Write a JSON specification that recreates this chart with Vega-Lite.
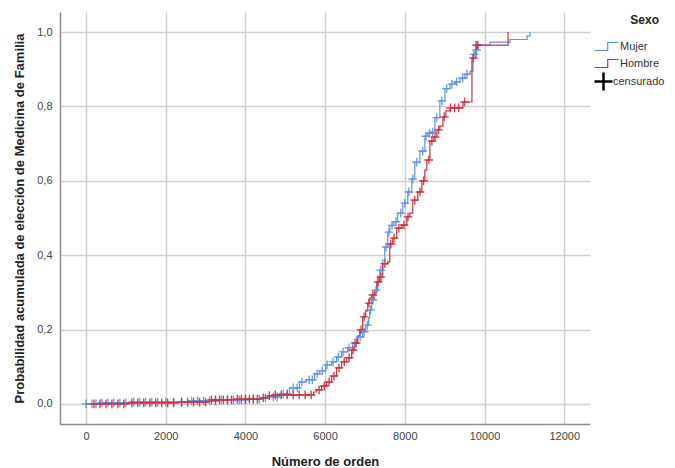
{
  "$schema": "https://vega.github.io/schema/vega-lite/v6.json",
  "width": 530,
  "height": 412,
  "autosize": {"type": "none"},
  "padding": {"left": 60, "top": 12, "right": 85, "bottom": 44},
  "background": "white",
  "config": {
    "view": {"stroke": null},
    "font": "Liberation Sans",
    "axis": {
      "gridColor": "#cfcfcf",
      "gridWidth": 1.5,
      "domainColor": "#8c8c8c",
      "domainWidth": 1.5,
      "ticks": false,
      "labelFont": "Liberation Sans",
      "labelFontSize": 11,
      "labelColor": "#444444",
      "titleFont": "Liberation Sans",
      "titleFontSize": 13,
      "titleFontWeight": "bold",
      "titleColor": "#222222"
    },
    "legend": {"padding": 0}
  },
  "datasets": {
    "steps": [
      {"s": "Mujer", "x": 0, "y": 0},
      {"s": "Mujer", "x": 327, "y": 0.003},
      {"s": "Mujer", "x": 1082, "y": 0.005},
      {"s": "Mujer", "x": 2591, "y": 0.008},
      {"s": "Mujer", "x": 3346, "y": 0.011},
      {"s": "Mujer", "x": 4101, "y": 0.013},
      {"s": "Mujer", "x": 4403, "y": 0.016},
      {"s": "Mujer", "x": 4604, "y": 0.019},
      {"s": "Mujer", "x": 4855, "y": 0.027},
      {"s": "Mujer", "x": 5107, "y": 0.043},
      {"s": "Mujer", "x": 5358, "y": 0.059},
      {"s": "Mujer", "x": 5535, "y": 0.065},
      {"s": "Mujer", "x": 5736, "y": 0.081},
      {"s": "Mujer", "x": 5862, "y": 0.089},
      {"s": "Mujer", "x": 6013, "y": 0.105},
      {"s": "Mujer", "x": 6163, "y": 0.113},
      {"s": "Mujer", "x": 6289, "y": 0.126},
      {"s": "Mujer", "x": 6415, "y": 0.14},
      {"s": "Mujer", "x": 6566, "y": 0.151},
      {"s": "Mujer", "x": 6692, "y": 0.164},
      {"s": "Mujer", "x": 6817, "y": 0.18},
      {"s": "Mujer", "x": 6943, "y": 0.194},
      {"s": "Mujer", "x": 7019, "y": 0.212},
      {"s": "Mujer", "x": 7094, "y": 0.231},
      {"s": "Mujer", "x": 7119, "y": 0.253},
      {"s": "Mujer", "x": 7170, "y": 0.28},
      {"s": "Mujer", "x": 7245, "y": 0.306},
      {"s": "Mujer", "x": 7321, "y": 0.344},
      {"s": "Mujer", "x": 7371, "y": 0.36},
      {"s": "Mujer", "x": 7447, "y": 0.387},
      {"s": "Mujer", "x": 7497, "y": 0.422},
      {"s": "Mujer", "x": 7572, "y": 0.462},
      {"s": "Mujer", "x": 7623, "y": 0.48},
      {"s": "Mujer", "x": 7723, "y": 0.49},
      {"s": "Mujer", "x": 7824, "y": 0.513},
      {"s": "Mujer", "x": 7950, "y": 0.54},
      {"s": "Mujer", "x": 8075, "y": 0.57},
      {"s": "Mujer", "x": 8176, "y": 0.605},
      {"s": "Mujer", "x": 8251, "y": 0.65},
      {"s": "Mujer", "x": 8377, "y": 0.68},
      {"s": "Mujer", "x": 8503, "y": 0.72},
      {"s": "Mujer", "x": 8578, "y": 0.728},
      {"s": "Mujer", "x": 8679, "y": 0.731},
      {"s": "Mujer", "x": 8755, "y": 0.77},
      {"s": "Mujer", "x": 8880, "y": 0.815},
      {"s": "Mujer", "x": 9006, "y": 0.848},
      {"s": "Mujer", "x": 9132, "y": 0.86},
      {"s": "Mujer", "x": 9258, "y": 0.866},
      {"s": "Mujer", "x": 9384, "y": 0.876},
      {"s": "Mujer", "x": 9509, "y": 0.887},
      {"s": "Mujer", "x": 9635, "y": 0.895},
      {"s": "Mujer", "x": 9711, "y": 0.94},
      {"s": "Mujer", "x": 9786, "y": 0.952},
      {"s": "Mujer", "x": 9836, "y": 0.965},
      {"s": "Mujer", "x": 10138, "y": 0.973},
      {"s": "Mujer", "x": 10641, "y": 0.98},
      {"s": "Mujer", "x": 11069, "y": 0.99},
      {"s": "Mujer", "x": 11145, "y": 1.0},
      {"s": "Hombre", "x": 0, "y": 0},
      {"s": "Hombre", "x": 1082, "y": 0.003},
      {"s": "Hombre", "x": 2340, "y": 0.005},
      {"s": "Hombre", "x": 3094, "y": 0.011},
      {"s": "Hombre", "x": 3723, "y": 0.013},
      {"s": "Hombre", "x": 4403, "y": 0.016},
      {"s": "Hombre", "x": 4553, "y": 0.022},
      {"s": "Hombre", "x": 4679, "y": 0.024},
      {"s": "Hombre", "x": 5711, "y": 0.032},
      {"s": "Hombre", "x": 5786, "y": 0.038},
      {"s": "Hombre", "x": 5912, "y": 0.048},
      {"s": "Hombre", "x": 6038, "y": 0.059},
      {"s": "Hombre", "x": 6163, "y": 0.075},
      {"s": "Hombre", "x": 6289, "y": 0.097},
      {"s": "Hombre", "x": 6415, "y": 0.113},
      {"s": "Hombre", "x": 6541, "y": 0.124},
      {"s": "Hombre", "x": 6667, "y": 0.145},
      {"s": "Hombre", "x": 6742, "y": 0.164},
      {"s": "Hombre", "x": 6817, "y": 0.183},
      {"s": "Hombre", "x": 6868, "y": 0.199},
      {"s": "Hombre", "x": 6943, "y": 0.234},
      {"s": "Hombre", "x": 7019, "y": 0.25},
      {"s": "Hombre", "x": 7069, "y": 0.271},
      {"s": "Hombre", "x": 7119, "y": 0.285},
      {"s": "Hombre", "x": 7170, "y": 0.293},
      {"s": "Hombre", "x": 7245, "y": 0.3},
      {"s": "Hombre", "x": 7296, "y": 0.328},
      {"s": "Hombre", "x": 7371, "y": 0.341},
      {"s": "Hombre", "x": 7447, "y": 0.377},
      {"s": "Hombre", "x": 7572, "y": 0.382},
      {"s": "Hombre", "x": 7623, "y": 0.43},
      {"s": "Hombre", "x": 7698, "y": 0.446},
      {"s": "Hombre", "x": 7799, "y": 0.473},
      {"s": "Hombre", "x": 7925, "y": 0.481},
      {"s": "Hombre", "x": 8050, "y": 0.503},
      {"s": "Hombre", "x": 8126, "y": 0.513},
      {"s": "Hombre", "x": 8201, "y": 0.548},
      {"s": "Hombre", "x": 8327, "y": 0.57},
      {"s": "Hombre", "x": 8427, "y": 0.6},
      {"s": "Hombre", "x": 8503, "y": 0.629},
      {"s": "Hombre", "x": 8553, "y": 0.656},
      {"s": "Hombre", "x": 8629, "y": 0.707},
      {"s": "Hombre", "x": 8729, "y": 0.718},
      {"s": "Hombre", "x": 8805, "y": 0.737},
      {"s": "Hombre", "x": 8880, "y": 0.747},
      {"s": "Hombre", "x": 8956, "y": 0.772},
      {"s": "Hombre", "x": 9031, "y": 0.788},
      {"s": "Hombre", "x": 9132, "y": 0.796},
      {"s": "Hombre", "x": 9459, "y": 0.812},
      {"s": "Hombre", "x": 9685, "y": 0.93},
      {"s": "Hombre", "x": 9786, "y": 0.965},
      {"s": "Hombre", "x": 10591, "y": 1.0}
    ],
    "cens": [
      {"s": "Mujer", "x": 0, "y": 0}, {"s": "Mujer", "x": 150, "y": 0}, {"s": "Mujer", "x": 250, "y": 0},
      {"s": "Mujer", "x": 400, "y": 0.003}, {"s": "Mujer", "x": 550, "y": 0.003}, {"s": "Mujer", "x": 700, "y": 0.003},
      {"s": "Mujer", "x": 850, "y": 0.003}, {"s": "Mujer", "x": 1000, "y": 0.003}, {"s": "Mujer", "x": 1200, "y": 0.005},
      {"s": "Mujer", "x": 1350, "y": 0.005}, {"s": "Mujer", "x": 1500, "y": 0.005}, {"s": "Mujer", "x": 1650, "y": 0.005},
      {"s": "Mujer", "x": 1800, "y": 0.005}, {"s": "Mujer", "x": 2000, "y": 0.005}, {"s": "Mujer", "x": 2200, "y": 0.005},
      {"s": "Mujer", "x": 2400, "y": 0.005}, {"s": "Mujer", "x": 2650, "y": 0.008}, {"s": "Mujer", "x": 2800, "y": 0.008},
      {"s": "Mujer", "x": 2950, "y": 0.008}, {"s": "Mujer", "x": 3100, "y": 0.008}, {"s": "Mujer", "x": 3250, "y": 0.008},
      {"s": "Mujer", "x": 3400, "y": 0.011}, {"s": "Mujer", "x": 3550, "y": 0.011}, {"s": "Mujer", "x": 3700, "y": 0.011},
      {"s": "Mujer", "x": 3850, "y": 0.011}, {"s": "Mujer", "x": 4000, "y": 0.011}, {"s": "Mujer", "x": 4200, "y": 0.013},
      {"s": "Mujer", "x": 4350, "y": 0.013}, {"s": "Mujer", "x": 4500, "y": 0.016}, {"s": "Mujer", "x": 4700, "y": 0.019},
      {"s": "Mujer", "x": 4800, "y": 0.019}, {"s": "Mujer", "x": 4950, "y": 0.027}, {"s": "Mujer", "x": 5050, "y": 0.027},
      {"s": "Mujer", "x": 5200, "y": 0.043}, {"s": "Mujer", "x": 5300, "y": 0.043}, {"s": "Mujer", "x": 5420, "y": 0.059},
      {"s": "Mujer", "x": 5600, "y": 0.065}, {"s": "Mujer", "x": 5680, "y": 0.065}, {"s": "Mujer", "x": 5800, "y": 0.081},
      {"s": "Mujer", "x": 5930, "y": 0.089}, {"s": "Mujer", "x": 6050, "y": 0.105}, {"s": "Mujer", "x": 6200, "y": 0.113},
      {"s": "Mujer", "x": 6330, "y": 0.126}, {"s": "Mujer", "x": 6450, "y": 0.14}, {"s": "Mujer", "x": 6600, "y": 0.151},
      {"s": "Mujer", "x": 6750, "y": 0.164}, {"s": "Mujer", "x": 6880, "y": 0.18}, {"s": "Mujer", "x": 6980, "y": 0.194},
      {"s": "Mujer", "x": 7060, "y": 0.212}, {"s": "Mujer", "x": 7140, "y": 0.253}, {"s": "Mujer", "x": 7200, "y": 0.28},
      {"s": "Mujer", "x": 7280, "y": 0.306}, {"s": "Mujer", "x": 7400, "y": 0.36}, {"s": "Mujer", "x": 7530, "y": 0.422},
      {"s": "Mujer", "x": 7600, "y": 0.462}, {"s": "Mujer", "x": 7680, "y": 0.48}, {"s": "Mujer", "x": 7780, "y": 0.49},
      {"s": "Mujer", "x": 7900, "y": 0.513}, {"s": "Mujer", "x": 8000, "y": 0.54}, {"s": "Mujer", "x": 8100, "y": 0.57},
      {"s": "Mujer", "x": 8200, "y": 0.605}, {"s": "Mujer", "x": 8300, "y": 0.65}, {"s": "Mujer", "x": 8450, "y": 0.68},
      {"s": "Mujer", "x": 8530, "y": 0.72}, {"s": "Mujer", "x": 8620, "y": 0.728}, {"s": "Mujer", "x": 8700, "y": 0.731},
      {"s": "Mujer", "x": 8800, "y": 0.77}, {"s": "Mujer", "x": 8930, "y": 0.815}, {"s": "Mujer", "x": 9050, "y": 0.848},
      {"s": "Mujer", "x": 9180, "y": 0.86}, {"s": "Mujer", "x": 9300, "y": 0.866}, {"s": "Mujer", "x": 9450, "y": 0.876},
      {"s": "Mujer", "x": 9560, "y": 0.887}, {"s": "Mujer", "x": 9740, "y": 0.94}, {"s": "Mujer", "x": 9800, "y": 0.952},
      {"s": "Hombre", "x": 200, "y": 0}, {"s": "Hombre", "x": 350, "y": 0}, {"s": "Hombre", "x": 500, "y": 0},
      {"s": "Hombre", "x": 650, "y": 0}, {"s": "Hombre", "x": 800, "y": 0}, {"s": "Hombre", "x": 950, "y": 0},
      {"s": "Hombre", "x": 1150, "y": 0.003}, {"s": "Hombre", "x": 1300, "y": 0.003}, {"s": "Hombre", "x": 1450, "y": 0.003},
      {"s": "Hombre", "x": 1600, "y": 0.003}, {"s": "Hombre", "x": 1750, "y": 0.003}, {"s": "Hombre", "x": 1900, "y": 0.003},
      {"s": "Hombre", "x": 2050, "y": 0.003}, {"s": "Hombre", "x": 2200, "y": 0.003}, {"s": "Hombre", "x": 2400, "y": 0.005},
      {"s": "Hombre", "x": 2550, "y": 0.005}, {"s": "Hombre", "x": 2700, "y": 0.005}, {"s": "Hombre", "x": 2850, "y": 0.005},
      {"s": "Hombre", "x": 3000, "y": 0.005}, {"s": "Hombre", "x": 3150, "y": 0.011}, {"s": "Hombre", "x": 3250, "y": 0.011},
      {"s": "Hombre", "x": 3350, "y": 0.011}, {"s": "Hombre", "x": 3450, "y": 0.011}, {"s": "Hombre", "x": 3550, "y": 0.011},
      {"s": "Hombre", "x": 3650, "y": 0.011}, {"s": "Hombre", "x": 3800, "y": 0.013}, {"s": "Hombre", "x": 3900, "y": 0.013},
      {"s": "Hombre", "x": 4000, "y": 0.013}, {"s": "Hombre", "x": 4100, "y": 0.013}, {"s": "Hombre", "x": 4200, "y": 0.013},
      {"s": "Hombre", "x": 4300, "y": 0.013}, {"s": "Hombre", "x": 4450, "y": 0.016}, {"s": "Hombre", "x": 4600, "y": 0.022},
      {"s": "Hombre", "x": 4750, "y": 0.024}, {"s": "Hombre", "x": 4900, "y": 0.024}, {"s": "Hombre", "x": 5050, "y": 0.024},
      {"s": "Hombre", "x": 5200, "y": 0.024}, {"s": "Hombre", "x": 5350, "y": 0.024}, {"s": "Hombre", "x": 5500, "y": 0.024},
      {"s": "Hombre", "x": 5650, "y": 0.024}, {"s": "Hombre", "x": 5850, "y": 0.038}, {"s": "Hombre", "x": 5980, "y": 0.048},
      {"s": "Hombre", "x": 6100, "y": 0.059}, {"s": "Hombre", "x": 6220, "y": 0.075}, {"s": "Hombre", "x": 6350, "y": 0.097},
      {"s": "Hombre", "x": 6480, "y": 0.113}, {"s": "Hombre", "x": 6600, "y": 0.124}, {"s": "Hombre", "x": 6700, "y": 0.145},
      {"s": "Hombre", "x": 6780, "y": 0.164}, {"s": "Hombre", "x": 6900, "y": 0.199}, {"s": "Hombre", "x": 6980, "y": 0.234},
      {"s": "Hombre", "x": 7100, "y": 0.271}, {"s": "Hombre", "x": 7200, "y": 0.293}, {"s": "Hombre", "x": 7330, "y": 0.328},
      {"s": "Hombre", "x": 7400, "y": 0.341}, {"s": "Hombre", "x": 7500, "y": 0.377}, {"s": "Hombre", "x": 7650, "y": 0.43},
      {"s": "Hombre", "x": 7730, "y": 0.446}, {"s": "Hombre", "x": 7850, "y": 0.473}, {"s": "Hombre", "x": 7980, "y": 0.481},
      {"s": "Hombre", "x": 8080, "y": 0.503}, {"s": "Hombre", "x": 8250, "y": 0.548}, {"s": "Hombre", "x": 8380, "y": 0.57},
      {"s": "Hombre", "x": 8470, "y": 0.6}, {"s": "Hombre", "x": 8600, "y": 0.656}, {"s": "Hombre", "x": 8680, "y": 0.707},
      {"s": "Hombre", "x": 8760, "y": 0.718}, {"s": "Hombre", "x": 8850, "y": 0.737}, {"s": "Hombre", "x": 8990, "y": 0.772},
      {"s": "Hombre", "x": 9150, "y": 0.796}, {"s": "Hombre", "x": 9250, "y": 0.796}, {"s": "Hombre", "x": 9350, "y": 0.796},
      {"s": "Hombre", "x": 9500, "y": 0.812}, {"s": "Hombre", "x": 9720, "y": 0.93}, {"s": "Hombre", "x": 9790, "y": 0.965},
      {"s": "Hombre", "x": 9830, "y": 0.965}
    ]
  },
  "encoding": {
    "x": {
      "field": "x", "type": "quantitative",
      "scale": {"domain": [-652, 12647], "nice": false, "zero": false},
      "axis": {"values": [0, 2000, 4000, 6000, 8000, 10000, 12000], "format": "d", "title": "Número de orden", "labelPadding": 6, "titlePadding": 14}
    },
    "y": {
      "field": "y", "type": "quantitative",
      "scale": {"domain": [-0.054, 1.054], "nice": false, "zero": false},
      "axis": {"values": [0, 0.2, 0.4, 0.6, 0.8, 1], "labelExpr": "replace(format(datum.value, '.1f'), '.', ',')", "title": "Probabilidad acumulada de elección de Medicina de Familia", "labelPadding": 8, "titlePadding": 10}
    },
    "color": {
      "field": "s", "type": "nominal",
      "scale": {"domain": ["Mujer", "Hombre"], "range": ["#5f93e6", "#cc3040"]},
      "legend": {
        "title": "Sexo", "orient": "none", "legendX": 541, "legendY": 3,
        "titleAnchor": "end", "titleFontSize": 12, "titleFontWeight": "bold", "titleColor": "#222222", "titlePadding": 14,
        "labelFontSize": 11, "labelColor": "#333333", "labelOffset": 8, "rowPadding": 4,
        "symbolType": "M-3,1H0.3V-1H3", "symbolSize": 64, "symbolStrokeWidth": 1.2, "symbolFillColor": "transparent",
        "symbolOpacity": 1
      }
    }
  },
  "layer": [
    {
      "data": {"name": "steps"},
      "mark": {"type": "line", "interpolate": "step-after", "strokeWidth": 1.2}
    },
    {
      "data": {"name": "cens"},
      "transform": [{"calculate": "'censurado'", "as": "tipo"}],
      "mark": {"type": "point", "filled": false, "strokeWidth": 1.4, "size": 8.5, "opacity": 0.9},
      "encoding": {
        "shape": {
          "field": "tipo", "type": "nominal",
          "scale": {"domain": ["censurado"], "range": ["M-3,0H3M0,-3V3"]},
          "legend": {
            "title": null, "orient": "none", "legendX": 538, "legendY": 64,
            "labelFontSize": 11, "labelColor": "#333333", "labelOffset": 4,
            "symbolSize": 36, "symbolStrokeColor": "black", "symbolStrokeWidth": 2.5, "symbolFillColor": "transparent",
            "symbolOpacity": 1
          }
        }
      }
    }
  ]
}
